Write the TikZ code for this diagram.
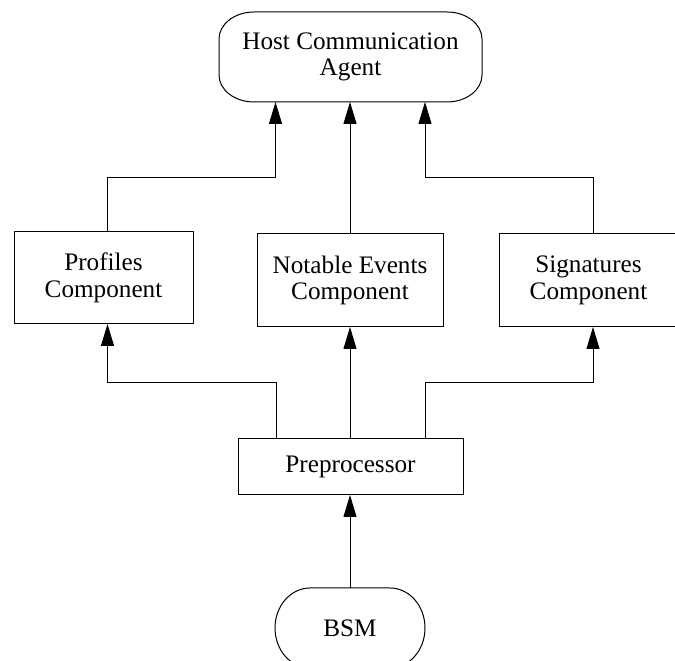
\documentclass[tikz,border=0pt]{standalone}
\usepackage{fontspec}
\setmainfont{Liberation Serif}
\usetikzlibrary{arrows.meta}

% outline with elliptical corners around a named node: name, x radius, y radius
\newcommand\roundends[3]{%
  \draw[outline]
    ([xshift=#2]#1.north west) -- ([xshift=-#2]#1.north east)
    arc[start angle=90,end angle=0,x radius=#2,y radius=#3]
    -- ([yshift=#3]#1.south east)
    arc[start angle=0,end angle=-90,x radius=#2,y radius=#3]
    -- ([xshift=#2]#1.south west)
    arc[start angle=270,end angle=180,x radius=#2,y radius=#3]
    -- ([yshift=-#3]#1.north west)
    arc[start angle=180,end angle=90,x radius=#2,y radius=#3]
    -- cycle;}

\begin{document}
\begin{tikzpicture}[x=1pt,y=1pt,
  outline/.style={line width=1pt,draw=black},
  every node/.style={outer sep=0pt,inner sep=0pt,
    font=\fontsize{25.2}{26.5}\selectfont,align=center},
  compbox/.style={draw,line width=1pt},
  arr/.style={line width=1pt,-{Triangle[length=22pt,width=13pt]}},
  link/.style={line width=1pt}]
\useasboundingbox (0,0) rectangle (675,661);
\clip (0,0) rectangle (675,661);

% agent at the top
\node (host) [minimum width=263pt,minimum height=90pt] at (350.5,604)
  {Host Communication\\Agent};
\roundends{host}{35pt}{27pt}

% analysis components
\node (prof) [compbox,minimum width=179pt,minimum height=92pt] at (103.5,383)
  {Profiles\\Component};
\node (note) [compbox,minimum width=186pt,minimum height=93pt] at (350,380.5)
  {Notable Events\\Component};
\node (sig) [compbox,minimum width=179pt,minimum height=93pt] at (588.5,380.5)
  {Signatures\\Component};

% preprocessor and audit source
\node (pre) [compbox,minimum width=225pt,minimum height=56pt] at (350.5,194)
  {Preprocessor};
\node (bsm) [minimum width=150pt,minimum height=80pt] at (350,33) {BSM};
\roundends{bsm}{35pt}{40pt}

% components report to the agent
\draw[arr] ([xshift=4pt]prof.north) -- ++(0,54) -| ([xshift=-75pt]host.south);
\draw[arr] (note.north) -- (note.north |- host.south);
\draw[arr] ([xshift=4.5pt]sig.north) -- ++(0,56) -| ([xshift=74.5pt]host.south);

% preprocessor feeds the components
\draw[arr] ([xshift=-74.5pt]pre.north) -- ++(0,56) -| ([xshift=4pt]prof.south);
\draw[arr] (pre.north -| note.south) -- (note.south);
\draw[arr] ([xshift=74.5pt]pre.north) -- ++(0,56) -| ([xshift=4.5pt]sig.south);

% audit records into the preprocessor
\draw[arr] (bsm.north) -- (bsm.north |- pre.south);
\end{tikzpicture}
\end{document}
